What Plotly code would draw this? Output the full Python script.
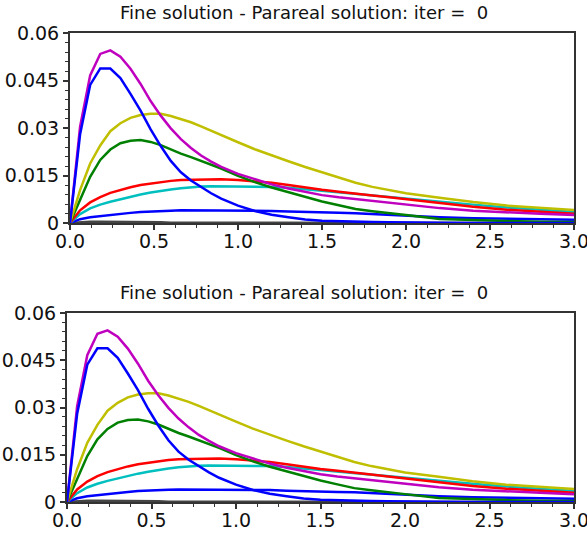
import plotly.graph_objects as go

t = [0, 0.06, 0.12, 0.18, 0.24, 0.30, 0.36, 0.42, 0.48, 0.54, 0.60, 0.66, 0.72, 0.78,
     0.84, 0.90, 1.0, 1.1, 1.2, 1.3, 1.4, 1.5, 1.6, 1.7, 1.8, 1.9, 2.0, 2.2, 2.4, 2.6, 2.8, 3.0]

magenta = [0, 0.0304, 0.0466, 0.0534, 0.0545, 0.0525, 0.0487, 0.0439, 0.0385, 0.0339, 0.0299,
           0.0265, 0.0237, 0.0213, 0.0194, 0.0177, 0.0155, 0.0138, 0.0122, 0.0109, 0.0098, 0.0088,
           0.0081, 0.0075, 0.0069, 0.0064, 0.0059, 0.0047, 0.0039, 0.0033, 0.0029, 0.0025]
blue = [0, 0.0280, 0.0436, 0.0488, 0.0488, 0.0458, 0.0408, 0.0355, 0.0296, 0.0243, 0.0196,
        0.0160, 0.0134, 0.0113, 0.0094, 0.0077, 0.0055, 0.0038, 0.0026, 0.0018, 0.0011, 0.0007,
        0.0005, 0.0004, 0.0003, 0.0002, 0.0001, 0.0001, 0.0, 0.0, 0.0, 0.0]
yellow = [0, 0.0104, 0.0188, 0.0245, 0.0290, 0.0315, 0.0332, 0.0341, 0.0345, 0.0345, 0.0338,
          0.0329, 0.0318, 0.0305, 0.0291, 0.0277, 0.0255, 0.0233, 0.0213, 0.0195, 0.0177, 0.0160,
          0.0145, 0.0127, 0.0114, 0.0103, 0.0094, 0.0080, 0.0066, 0.0055, 0.0047, 0.0041]
green = [0, 0.0073, 0.0146, 0.0199, 0.0232, 0.0252, 0.0260, 0.0262, 0.0256, 0.0246, 0.0232,
         0.0219, 0.0208, 0.0196, 0.0184, 0.0172, 0.0149, 0.0129, 0.0112, 0.0097, 0.0082, 0.0068,
         0.0056, 0.0044, 0.0037, 0.0030, 0.0025, 0.0013, 0.0009, 0.0006, 0.0004, 0.0003]
red = [0, 0.0040, 0.0065, 0.0082, 0.0095, 0.0105, 0.0113, 0.0120, 0.0125, 0.0129, 0.0133,
       0.0136, 0.0137, 0.0138, 0.0138, 0.0138, 0.0136, 0.0132, 0.0127, 0.0120, 0.0112, 0.0105,
       0.0099, 0.0094, 0.0087, 0.0081, 0.0075, 0.0062, 0.0051, 0.0042, 0.0035, 0.0029]
cyan = [0, 0.0028, 0.0046, 0.0058, 0.0067, 0.0075, 0.0083, 0.0090, 0.0096, 0.0102, 0.0106,
        0.0110, 0.0113, 0.0115, 0.0116, 0.0116, 0.0116, 0.0116, 0.0114, 0.0111, 0.0106, 0.0102,
        0.0097, 0.0092, 0.0087, 0.0082, 0.0078, 0.0068, 0.0058, 0.0049, 0.0041, 0.0035]
darkblue = [0, 0.0012, 0.0018, 0.0022, 0.0026, 0.0029, 0.0032, 0.0035, 0.0037, 0.0038, 0.0039,
            0.0040, 0.0040, 0.0040, 0.0040, 0.0040, 0.0039, 0.0039, 0.0038, 0.0036, 0.0034, 0.0033,
            0.0032, 0.0031, 0.0028, 0.0025, 0.0023, 0.0018, 0.0015, 0.0013, 0.0011, 0.0010]
gray = [0, 0.0003, 0.0004, 0.0004, 0.0004, 0.0003, 0.0003, 0.0002, 0.0002, 0.0002, 0.0001,
        0.0001, 0.0001, 0.0001, 0.0001, 0.0001, 0.0001, 0.0, 0.0, 0.0, 0.0, 0.0,
        0.0, 0.0, 0.0, 0.0, 0.0, 0.0, 0.0, 0.0, 0.0, 0.0]

series = [
    (gray, "#444444"),
    (darkblue, "#0000FF"),
    (cyan, "#00BFBF"),
    (red, "#FF0000"),
    (green, "#008000"),
    (yellow, "#BFBF00"),
    (magenta, "#BF00BF"),
    (blue, "#0000FF"),
]

title_text = "Fine solution - Parareal solution: iter =  0"
y_ticks = [0, 0.015, 0.03, 0.045, 0.06]
y_labels = ["0", "0.015", "0.03", "0.045", "0.06"]
x_ticks = [0, 0.5, 1.0, 1.5, 2.0, 2.5, 3.0]
x_labels = ["0.0", "0.5", "1.0", "1.5", "2.0", "2.5", "3.0"]

W, H = 587, 534
FAM = "DejaVu Sans, Liberation Sans, Arial, sans-serif"
fig = go.Figure()

for xa, ya in [("x", "y"), ("x2", "y2")]:
    for vals, col in series:
        fig.add_trace(go.Scatter(x=t, y=vals, mode="lines", xaxis=xa, yaxis=ya,
                                 line=dict(color=col, width=2.5), showlegend=False,
                                 hoverinfo="skip"))

font = dict(family=FAM, size=19, color="#111111")

def xaxis(dom, anchor):
    return dict(domain=dom, anchor=anchor, range=[0, 3], tickvals=x_ticks, ticktext=x_labels,
                ticks="outside", ticklen=5, tickwidth=1.5, tickcolor="#333",
                minor=dict(dtick=0.125, ticks="outside", ticklen=3, tickcolor="#333", tickwidth=1),
                showline=True, linecolor="#333", linewidth=2, mirror=True, automargin=False,
                ticklabeloverflow="allow", ticklabelstandoff=-5,
                showgrid=False, zeroline=False, tickfont=font, fixedrange=True)

def yaxis(dom, anchor):
    return dict(domain=dom, anchor=anchor, range=[0, 0.06], tickvals=y_ticks, ticktext=y_labels,
                ticks="outside", ticklen=5, tickwidth=1.5, tickcolor="#333",
                minor=dict(dtick=0.003, ticks="outside", ticklen=3, tickcolor="#333", tickwidth=1),
                showline=True, linecolor="#333", linewidth=2, mirror=True, automargin=False,
                ticklabeloverflow="allow",
                showgrid=False, zeroline=False, tickfont=font, fixedrange=True)

fig.update_layout(
    width=W, height=H, margin=dict(l=0, r=0, t=0, b=0),
    paper_bgcolor="white", plot_bgcolor="white",
    xaxis=xaxis([70 / W, 574 / W], "y"),
    yaxis=yaxis([1 - 223 / H, 1 - 33 / H], "x"),
    xaxis2=xaxis([67 / W, 574 / W], "y2"),
    yaxis2=yaxis([1 - 502 / H, 1 - 313 / H], "x2"),
    annotations=[
        dict(text=title_text, x=303.5 / W, y=1 - 13 / H, xref="paper", yref="paper",
             showarrow=False, xanchor="center", yanchor="middle",
             font=dict(family=FAM, size=18, color="#111111")),
        dict(text=title_text, x=303.5 / W, y=1 - 292.5 / H, xref="paper", yref="paper",
             showarrow=False, xanchor="center", yanchor="middle",
             font=dict(family=FAM, size=18, color="#111111")),
    ],
)

fig.write_html("out.html")
